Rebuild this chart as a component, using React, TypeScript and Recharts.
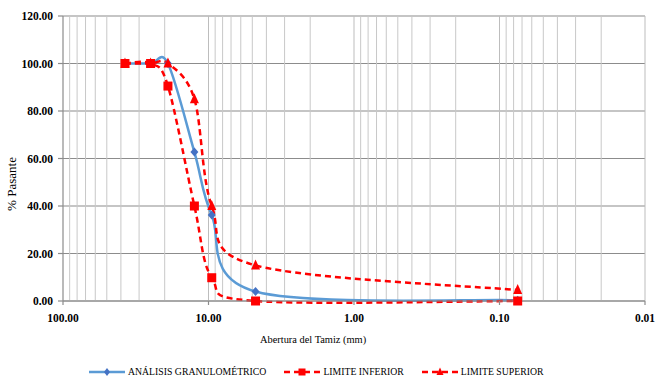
import { LineChart, Line, XAxis, YAxis, CartesianGrid, ReferenceLine } from 'recharts';

// sieve openings (mm)
const sizes = [37.5, 25, 19, 12.5, 9.5, 4.75, 0.075];
// % passing
const analysis = [100, 100, 100, 62.7, 36.2, 4.0, 0.3];
const lower = [100, 100, 90.5, 40, 9.8, 0, 0];
const upper = [100, 100, 100, 85, 40, 15, 4.6];

const xTicks = [100, 10, 1, 0.1, 0.01];
const yTicks = [0, 20, 40, 60, 80, 100, 120];

const toRows = (vals: number[]) => sizes.map((s, i) => ({ size: s, value: vals[i] }));

// minor log gridlines 2..9 per decade
const minorLines: number[] = [];
[0.01, 0.1, 1, 10].forEach((d) => {
  for (let k = 2; k <= 9; k++) minorLines.push(+(d * k).toPrecision(3));
});

// Excel-like smoothed line (Catmull-Rom bezier)
const smoothCurve = (context: any) => {
  let pts: number[][] = [];
  return {
    areaStart() {},
    areaEnd() {},
    lineStart() {
      pts = [];
    },
    lineEnd() {
      const n = pts.length;
      if (!n) return;
      context.moveTo(pts[0][0], pts[0][1]);
      for (let i = 0; i < n - 1; i++) {
        const p0 = pts[Math.max(i - 1, 0)];
        const p1 = pts[i];
        const p2 = pts[i + 1];
        const p3 = pts[Math.min(i + 2, n - 1)];
        context.bezierCurveTo(
          p1[0] + (p2[0] - p0[0]) / 6,
          p1[1] + (p2[1] - p0[1]) / 6,
          p2[0] - (p3[0] - p1[0]) / 6,
          p2[1] - (p3[1] - p1[1]) / 6,
          p2[0],
          p2[1]
        );
      }
    },
    point(x: number, y: number) {
      pts.push([+x, +y]);
    },
  };
};

const Diamond = ({ cx, cy, index }: any) => (
  <path key={`d-${index}`} d={`M${cx},${cy - 4.5}L${cx + 4},${cy}L${cx},${cy + 4.5}L${cx - 4},${cy}Z`} fill="#4472c4" />
);
const Square = ({ cx, cy, index }: any) => (
  <rect key={`s-${index}`} x={cx - 4.5} y={cy - 4.5} width={9} height={9} fill="#ff0000" />
);
const Triangle = ({ cx, cy, index }: any) => (
  <path key={`t-${index}`} d={`M${cx},${cy - 6}L${cx + 4.5},${cy + 4}L${cx - 4.5},${cy + 4}Z`} fill="#ff0000" />
);

const serif = '"Liberation Serif", "Times New Roman", serif';

const LegendItem = ({ color, dashed, marker, label }: any) => (
  <div style={{ display: 'flex', alignItems: 'center', marginRight: 18 }}>
    <svg width={36} height={10}>
      <line x1={0} y1={5} x2={36} y2={5} stroke={color} strokeWidth={2.5} strokeDasharray={dashed ? '6 4' : undefined} />
      {marker === 'diamond' && <path d="M18,1L21,5L18,9L15,5Z" fill="#4472c4" />}
      {marker === 'square' && <rect x={14.5} y={1.5} width={7} height={7} fill="#ff0000" />}
      {marker === 'triangle' && <path d="M18,0.5L21.5,8L14.5,8Z" fill="#ff0000" />}
    </svg>
    <span style={{ marginLeft: 3 }}>{label}</span>
  </div>
);

export default function App() {
  return (
    <div style={{ position: 'absolute', left: 0, top: 0, width: 657, height: 381, background: '#fff', fontFamily: serif }}>
      <LineChart width={657} height={381} margin={{ top: 16, right: 12, left: 0, bottom: 0 }} style={{ fontFamily: serif }}>
        <CartesianGrid vertical={false} stroke="#8c8c8c" strokeWidth={1.2} />
        {minorLines.map((v) => (
          <ReferenceLine key={`m-${v}`} x={v} stroke="#c8c8c8" strokeWidth={1} />
        ))}
        {[10, 1, 0.1, 0.01].map((v) => (
          <ReferenceLine key={`M-${v}`} x={v} stroke="#bdbdbd" strokeWidth={1} />
        ))}
        <XAxis
          dataKey="size"
          type="number"
          scale="log"
          domain={[0.01, 100]}
          reversed
          ticks={xTicks}
          allowDataOverflow
          height={80}
          tickSize={4}
          tickMargin={9}
          stroke="#8c8c8c"
          strokeWidth={1.2}
          tick={{ fill: '#000', fontSize: 11.5, fontWeight: 'bold', fontFamily: serif }}
          tickFormatter={(v: number) => v.toFixed(2)}
        />
        <YAxis
          type="number"
          domain={[0, 120]}
          ticks={yTicks}
          width={63}
          tickSize={5}
          tickMargin={5}
          stroke="#8c8c8c"
          strokeWidth={1.2}
          tick={{ fill: '#000', fontSize: 11.5, fontWeight: 'bold', fontFamily: serif }}
          tickFormatter={(v: number) => v.toFixed(2)}
          label={() => (
            <text x={11} y={184} transform="rotate(-90, 11, 184)" textAnchor="middle" dominantBaseline="central" fontSize={13} fontFamily={serif} fill="#000">
              % Pasante
            </text>
          )}
        />
        <Line
          data={toRows(analysis)}
          dataKey="value"
          type={smoothCurve as any}
          stroke="#5b9bd5"
          strokeWidth={2.5}
          dot={Diamond}
          activeDot={false}
          isAnimationActive={false}
        />
        <Line
          data={toRows(lower)}
          dataKey="value"
          type={smoothCurve as any}
          stroke="#ff0000"
          strokeWidth={2.5}
          strokeDasharray="6 4"
          dot={Square}
          activeDot={false}
          isAnimationActive={false}
        />
        <Line
          data={toRows(upper)}
          dataKey="value"
          type={smoothCurve as any}
          stroke="#ff0000"
          strokeWidth={2.5}
          strokeDasharray="6 4"
          dot={Triangle}
          activeDot={false}
          isAnimationActive={false}
        />
      </LineChart>
      <div style={{ position: 'absolute', left: 260, top: 334, fontSize: 10.4, color: '#000', whiteSpace: 'nowrap' }}>
        Abertura del Tamiz (mm)
      </div>
      <div style={{ position: 'absolute', left: 89, top: 366, display: 'flex', fontSize: 9.75, color: '#000', whiteSpace: 'nowrap' }}>
        <LegendItem color="#5b9bd5" marker="diamond" label="ANÁLISIS GRANULOMÉTRICO" />
        <LegendItem color="#ff0000" dashed marker="square" label="LIMITE INFERIOR" />
        <LegendItem color="#ff0000" dashed marker="triangle" label="LIMITE SUPERIOR" />
      </div>
    </div>
  );
}
